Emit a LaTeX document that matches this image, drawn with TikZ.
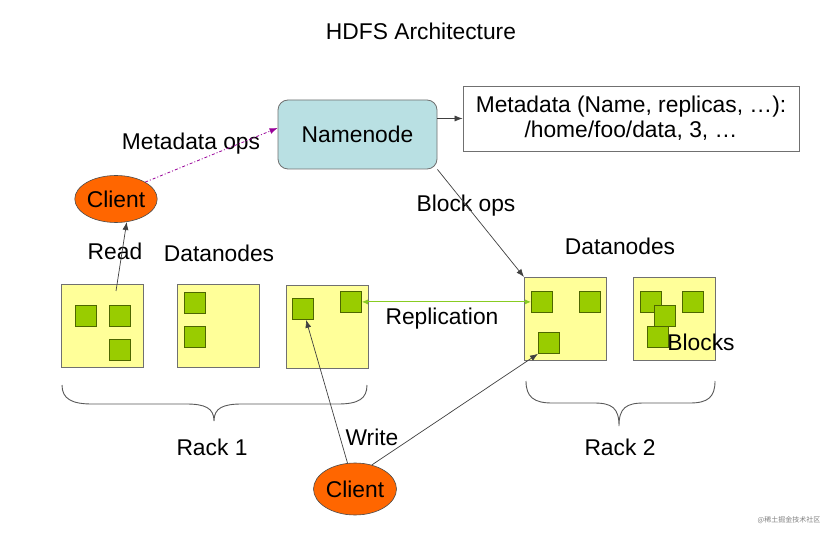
\documentclass[tikz,border=0pt]{standalone}
\usepackage{fontspec}
\setmainfont{Liberation Sans}
\newfontfamily\cjk{Noto Sans CJK SC}
\usetikzlibrary{arrows.meta,shapes.geometric}
\definecolor{nnfill}{HTML}{B9E0E3}
\definecolor{clfill}{HTML}{FF6600}
\definecolor{dnfill}{HTML}{FFFF99}
\definecolor{blkfill}{HTML}{99CC00}
\definecolor{blkline}{HTML}{4D6600}
\definecolor{mdline}{HTML}{990099}
\definecolor{repline}{HTML}{88CC22}
\definecolor{edge}{HTML}{707070}
\tikzset{
  lbl/.style={font=\fontsize{22.8}{27}\selectfont, inner sep=0pt, text=black},
  dnbox/.style={draw=edge, fill=dnfill, line width=0.8pt, minimum width=82pt, minimum height=83pt, inner sep=0pt, anchor=north west},
  blk/.style={draw=blkline, fill=blkfill, line width=0.8pt, minimum width=21pt, minimum height=21pt, inner sep=0pt, anchor=north west},
  client/.style={ellipse, draw=black!70, fill=clfill, line width=0.6pt, inner sep=0pt, text=black, font=\fontsize{22.8}{27}\selectfont},
  arr/.style={draw=black!75, line width=0.7pt, -{Latex[length=8pt,width=6pt]}},
  brace/.style={draw=black!65, line width=0.9pt}
}
\begin{document}
\begin{tikzpicture}[x=1pt,y=-1pt]
\useasboundingbox[fill=white] (0,0) rectangle (829,534);

\node[lbl] (title) at (421,31) {HDFS Architecture};

% Namenode and metadata
\node[draw=edge, fill=nnfill, rounded corners=10pt, line width=0.8pt, minimum width=159pt, minimum height=69pt, inner sep=0pt, text=black, font=\fontsize{22.8}{27}\selectfont] (nn) at (357.5,134.5) {Namenode};
\node[draw=edge, line width=0.8pt, minimum width=336pt, minimum height=65pt, inner sep=0pt, align=center, text=black, font=\fontsize{22.8}{25}\selectfont] (meta) at (631,118.5) {Metadata (Name, replicas, \ldots):\\/home/foo/data, 3, \ldots};
\draw[arr] (nn.east |- meta.west) -- (meta.west);

% Clients
\node[client, minimum width=81pt, minimum height=47pt] (c1) at (116,199) {Client};
\node[client, minimum width=83pt, minimum height=52pt] (c2) at (355,489) {Client};

% Rack 1 datanodes
\node[dnbox] (d1) at (61,284) {};
\node[dnbox] (d2) at (177,284) {};
\node[dnbox] (d3) at (286,285) {};
\node[blk] (b1a) at (75,305) {};
\node[blk] (b1b) at (109,305) {};
\node[blk] (b1c) at (109,339) {};
\node[blk] (b2a) at (184,292) {};
\node[blk] (b2b) at (184,326) {};
\node[blk] (b3a) at (292,298) {};
\node[blk] (b3b) at (340,291) {};

% Rack 2 datanodes
\node[dnbox] (d4) at (524,277) {};
\node[dnbox] (d5) at (633,277) {};
\node[blk] (b4a) at (531,291) {};
\node[blk] (b4b) at (579,291) {};
\node[blk] (b4c) at (538,332) {};
\node[blk] (b5a) at (640,291) {};
\node[blk] (b5b) at (682,291) {};
\node[blk] (b5c) at (654,305) {};
\node[blk] (b5d) at (647,326) {};

% Labels
\node[lbl] (lmd) at (191,144) {Metadata ops};
\node[lbl] (lread) at (115,251) {Read};
\node[lbl] (ldn1) at (219,253) {Datanodes};
\node[lbl] (lbo) at (466,206) {Block ops};
\node[lbl] (ldn2) at (620,246) {Datanodes};
\node[lbl] (lrep) at (442,319) {Replication};
\node[lbl] (lblk) at (701,342) {Blocks};
\node[lbl] (lw) at (372,437) {Write};
\node[lbl] (lr1) at (212,447) {Rack 1};
\node[lbl] (lr2) at (620,447) {Rack 2};

% Connectors
\coordinate (rs) at (116,291);
\draw[arr] (rs) -- (c1.-65);
\draw[draw=mdline, line width=0.8pt, dash pattern=on 3pt off 2pt on 1pt off 2pt, -{Latex[length=8pt,width=6pt]}] (c1.30) -- (nn.west |- 0,128);
\draw[arr] (nn.south east) -- (d4.north west);
\draw[draw=repline, line width=0.9pt, {Latex[length=6pt,width=5pt]}-{Latex[length=6pt,width=5pt]}] (b3b.east) -- (b4a.west);
\draw[arr] (c2) -- (b3a);
\draw[arr] (c2.55) -- (b4c.south west);

% Braces
\draw[brace] (62,385) .. controls (62,399) and (72,404) .. (92,404) -- (186,404) .. controls (205,404) and (214,408) .. (214,421) .. controls (214,408) and (223,404) .. (242,404) -- (338,404) .. controls (358,404) and (367,399) .. (367,385);
\draw[brace] (526,381) .. controls (526,397) and (534,403) .. (552,403) -- (594,403) .. controls (612,403) and (619,408) .. (619,426) .. controls (619,408) and (626,403) .. (644,403) -- (690,403) .. controls (708,403) and (715,397) .. (715,381);

% Watermark
\node[inner sep=0pt, text=black!50, font=\cjk\fontsize{7}{8}\selectfont] (wm) at (789,520) {@稀土掘金技术社区};
\end{tikzpicture}
\end{document}
